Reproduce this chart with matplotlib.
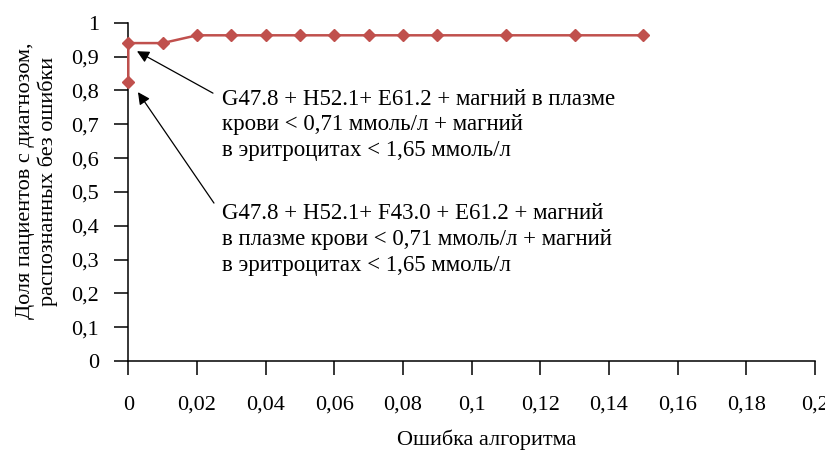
import matplotlib
matplotlib.use("Agg")
import matplotlib.pyplot as plt

plt.rcParams['font.family'] = ['Liberation Serif', 'DejaVu Serif']

x_err = [0, 0, 0.01, 0.02, 0.03, 0.04, 0.05, 0.06, 0.07, 0.08, 0.09, 0.11, 0.13, 0.15]
y_share = [0.826, 0.94, 0.94, 0.963, 0.963, 0.963, 0.963, 0.963, 0.963, 0.963, 0.963, 0.963, 0.963, 0.963]

x_ticks = [0, 0.02, 0.04, 0.06, 0.08, 0.1, 0.12, 0.14, 0.16, 0.18, 0.2]
x_labels = ["0", "0,02", "0,04", "0,06", "0,08", "0,1", "0,12", "0,14", "0,16", "0,18", "0,2"]
y_ticks = [0, 0.1, 0.2, 0.3, 0.4, 0.5, 0.6, 0.7, 0.8, 0.9, 1]
y_labels = ["0", "0,1", "0,2", "0,3", "0,4", "0,5", "0,6", "0,7", "0,8", "0,9", "1"]

note1 = ("G47.8 + H52.1+ E61.2 + магний в плазме\n"
         "крови < 0,71 ммоль/л + магний\n"
         "в эритроцитах < 1,65 ммоль/л")
note2 = ("G47.8 + H52.1+ F43.0 + E61.2 + магний\n"
         "в плазме крови < 0,71 ммоль/л + магний\n"
         "в эритроцитах < 1,65 ммоль/л")

fig = plt.figure(figsize=(8.25, 4.54), dpi=100)
ax = fig.add_axes([0.1555, 0.2048, 0.8325, 0.745])

ax.plot(x_err, y_share, color='#C0504D', lw=1.8, marker='D', markersize=6,
        markeredgecolor='#C0504D', markerfacecolor='#C0504D', clip_on=False, zorder=3)

ax.set_xlim(0, 0.2)
ax.set_ylim(0, 1)
ax.set_xticks(x_ticks)
ax.set_xticklabels(x_labels)
ax.set_yticks(y_ticks)
ax.set_yticklabels(y_labels)
for s in ['top', 'right']:
    ax.spines[s].set_visible(False)
for s in ['left', 'bottom']:
    ax.spines[s].set_linewidth(1.1)
ax.tick_params(axis='x', direction='out', length=10, width=1.1, pad=15, labelsize=16)
ax.tick_params(axis='y', direction='out', length=10, width=1.1, pad=11, labelsize=16)

fig.text(487/825, 1 - 440/454, "Ошибка алгоритма", ha='center', va='center', fontsize=16)
fig.text(37/825, 1 - 181/454, "Доля пациентов с диагнозом,\nраспознанных без ошибки",
         ha='center', va='center', rotation=90, fontsize=16, multialignment='center',
         linespacing=1.2)

ax.text(0.0273, 0.698, note1, ha='left', va='center', fontsize=16.5, linespacing=1.3)
ax.text(0.0273, 0.36, note2, ha='left', va='center', fontsize=16.5, linespacing=1.3)

ap = dict(arrowstyle='-|>', color='black', lw=0.9, mutation_scale=18, shrinkA=0, shrinkB=0)
ax.annotate("", xy=(0.00253, 0.916), xytext=(0.02466, 0.792), arrowprops=ap,
            annotation_clip=False)
ax.annotate("", xy=(0.00282, 0.795), xytext=(0.02495, 0.467), arrowprops=ap,
            annotation_clip=False)

fig.savefig("out.png", dpi=100)
